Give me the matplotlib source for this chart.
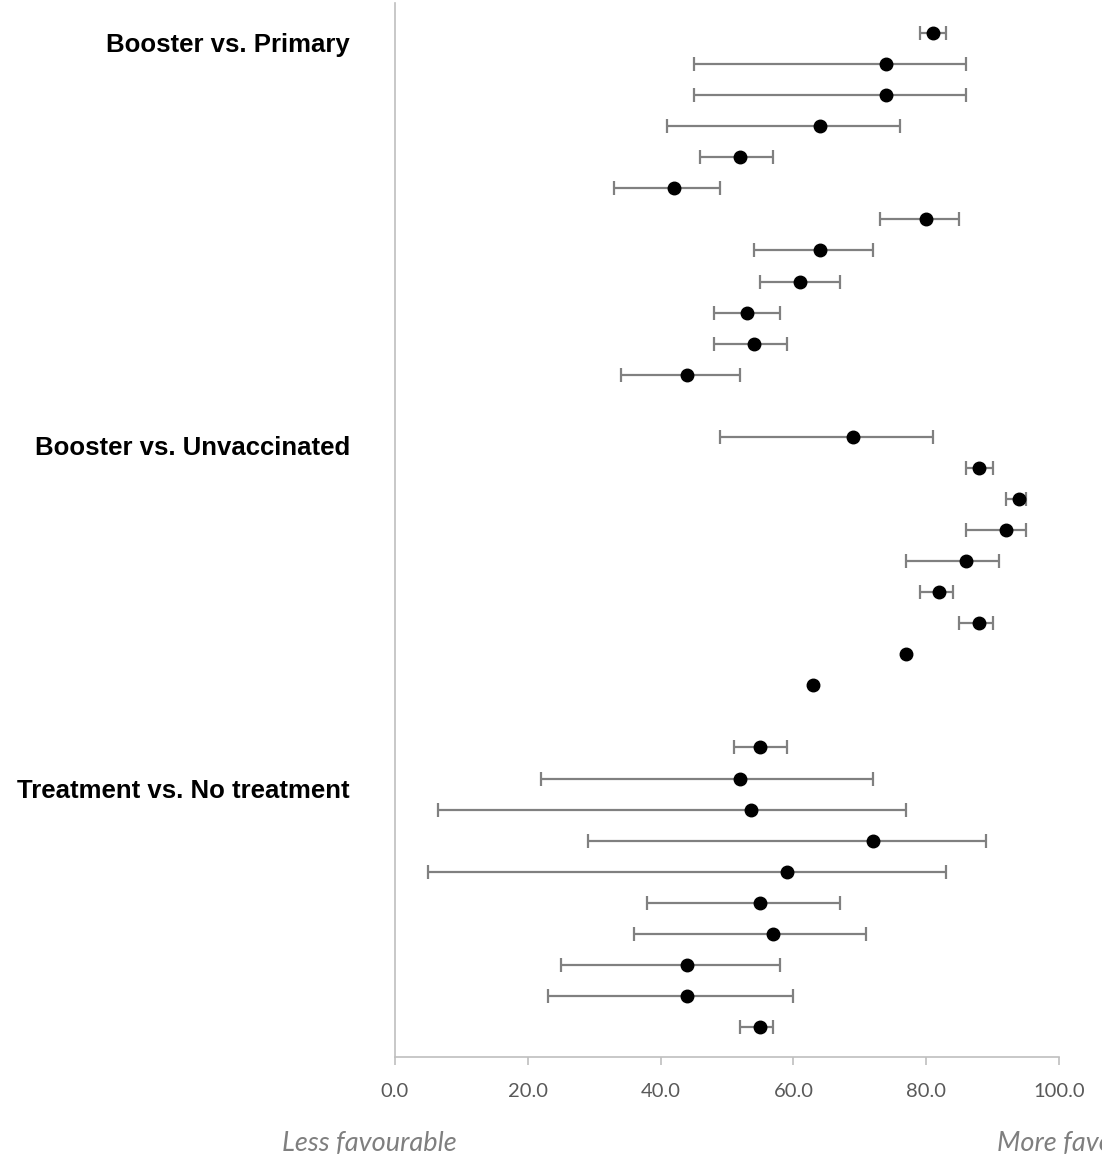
import numpy as np
import matplotlib.pyplot as plt

# 各グループの推定値と区間 (値は図から読み取り)
primary_est = [81, 74, 74, 64, 52, 42, 80, 64, 61, 53, 54, 44]
primary_lo = [79, 45, 45, 41, 46, 33, 73, 54, 55, 48, 48, 34]
primary_hi = [83, 86, 86, 76, 57, 49, 85, 72, 67, 58, 59, 52]

unvacc_est = [69, 88, 94, 92, 86, 82, 88, 77, 63]
unvacc_lo = [49, 86, 92, 86, 77, 79, 85, np.nan, np.nan]
unvacc_hi = [81, 90, 95, 95, 91, 84, 90, np.nan, np.nan]

treat_est = [55, 52, 53.6, 72, 59, 55, 57, 44, 44, 55]
treat_lo = [51, 22, 6.5, 29, 5, 38, 36, 25, 23, 52]
treat_hi = [59, 72, 77, 89, 83, 67, 71, 58, 60, 57]

group_names = ["Booster vs. Primary", "Booster vs. Unvaccinated", "Treatment vs. No treatment"]
xticks = [0, 20, 40, 60, 80, 100]

groups = [(primary_est, primary_lo, primary_hi),
          (unvacc_est, unvacc_lo, unvacc_hi),
          (treat_est, treat_lo, treat_hi)]

fig = plt.figure(figsize=(11.02, 11.59), dpi=100)
ax = fig.add_axes([0.3584, 0.088, 0.6026, 0.9094])

# 行位置 (グループの間に空行を1つ)
row = 0
label_rows = []
for est, lo, hi in groups:
    est = np.array(est, dtype=float)
    lo = np.array(lo, dtype=float)
    hi = np.array(hi, dtype=float)
    ys = np.arange(row, row + len(est))
    has = ~np.isnan(lo)
    ax.errorbar(est[has], ys[has], xerr=[est[has] - lo[has], hi[has] - est[has]],
                fmt="none", ecolor="#808080", elinewidth=1.6, capsize=5, capthick=1.6)
    ax.plot(est, ys, "o", color="black", markersize=9, zorder=3)
    label_rows.append(row)
    row += len(est) + 1

# グループ名
label_offsets = [0.38, 0.36, 1.4]
for name, r, off in zip(group_names, label_rows, label_offsets):
    ax.text(-6.8, r + off, name, ha="right", va="center", fontsize=18.5,
            fontweight="bold", family="Liberation Sans", clip_on=False)

ax.set_xlim(0, 100)
ax.set_ylim(32.966, -0.966)
ax.set_xticks(xticks)
ax.set_xticklabels([f"{v:.1f}" for v in xticks], family="Lato", fontsize=14.5, color="#595959")
ax.set_yticks([])
ax.tick_params(axis="x", direction="out", length=6, color="#bfbfbf", width=1.2, pad=13)

for s in ["top", "right"]:
    ax.spines[s].set_visible(False)
for s in ["left", "bottom"]:
    ax.spines[s].set_color("#bfbfbf")
    ax.spines[s].set_linewidth(1.2)

fig.text(282 / 1102, 1 - 1143 / 1159, "Less favourable", ha="left", va="center",
         style="italic", fontsize=19.5, family="Lato", color="#7f7f7f")
fig.text(997 / 1102, 1 - 1143 / 1159, "More favourable", ha="left", va="center",
         style="italic", fontsize=19.5, family="Lato", color="#7f7f7f")

fig.savefig("out.png", dpi=100)
